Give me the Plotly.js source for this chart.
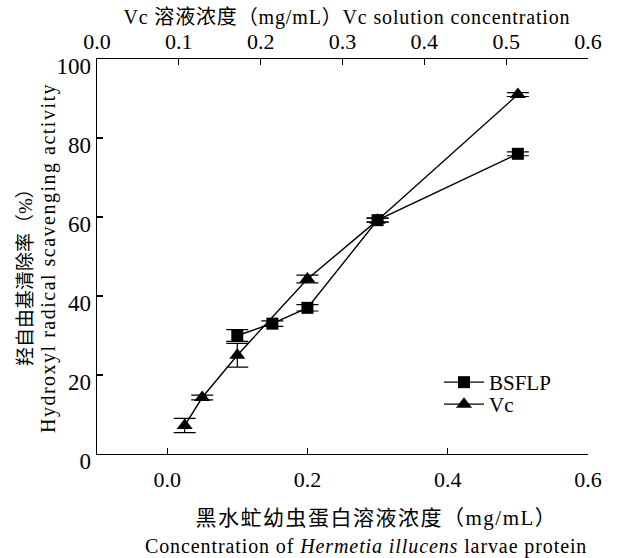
<!DOCTYPE html>
<html>
<head>
<meta charset="utf-8">
<script src="https://cdn.plot.ly/plotly-3.0.1.min.js"></script>
<style>
html,body{margin:0;padding:0;background:#fff;}
#chart{width:620px;height:558px;}
g.annotation[data-index="0"] text{letter-spacing:0.85px;}
g.annotation[data-index="1"] text{letter-spacing:1.5px;}
g.annotation[data-index="2"] text{letter-spacing:0.9px;}
g.annotation[data-index="4"] text{letter-spacing:1.5px;}
</style>
</head>
<body>
<div id="chart"></div>
<script>
// Data
var bsflpConc = [0.1, 0.15, 0.2, 0.3, 0.5];
var bsflpActivity = [30.0, 33.0, 37.0, 59.2, 76.0];
var bsflpErr = [1.5, 0.7, 0.8, 0.5, 0.5];

var vcConc = [0.025, 0.05, 0.1, 0.2, 0.3, 0.5];
var vcActivity = [7.2, 14.3, 25.0, 44.3, 59.2, 91.0];
var vcErr = [1.8, 0.6, 3.0, 1.0, 0.5, 0.5];

var bottomTicks = [0.0, 0.2, 0.4, 0.6];
var topTicks = [0.0, 0.1, 0.2, 0.3, 0.4, 0.5, 0.6];
var yTicks = [0, 20, 40, 60, 80, 100];

var serif = 'Liberation Serif, Times New Roman, Noto Sans CJK SC, serif';

var traces = [
  {
    x: bsflpConc, y: bsflpActivity, name: 'BSFLP', type: 'scatter', mode: 'lines+markers',
    legend: 'legend',
    line: {color: '#000', width: 1.4},
    marker: {symbol: 'square', size: 12, color: '#000'},
    error_y: {type: 'data', array: bsflpErr, visible: true, color: '#000', thickness: 1.2, width: 11}
  },
  {
    x: vcConc, y: vcActivity, name: 'Vc', type: 'scatter', mode: 'lines+markers',
    legend: 'legend2',
    line: {color: '#000', width: 1.4},
    marker: {symbol: 'triangle-up', size: 14, color: '#000'},
    error_y: {type: 'data', array: vcErr, visible: true, color: '#000', thickness: 1.2, width: 11}
  },
  {
    x: [0, 0.6], y: [null, null], xaxis: 'x2', yaxis: 'y', type: 'scatter', mode: 'markers',
    showlegend: false, hoverinfo: 'skip'
  }
];

function px2x(p) { return (p - 97) / 491; }
function px2y(p) { return (454 - p) / 395; }

var legendFont = {family: serif, size: 21, color: '#000'};

var layout = {
  width: 620, height: 558,
  margin: {l: 97, r: 32, t: 59, b: 104},
  paper_bgcolor: '#fff', plot_bgcolor: '#fff',
  font: {family: serif, color: '#000', size: 20},
  showlegend: true,
  legend: {x: px2x(439), y: px2y(362), xanchor: 'left', yanchor: 'top', bgcolor: 'rgba(0,0,0,0)',
           font: legendFont, itemwidth: 40},
  legend2: {x: px2x(439), y: px2y(384), xanchor: 'left', yanchor: 'top', bgcolor: 'rgba(0,0,0,0)',
            font: legendFont, itemwidth: 40},
  xaxis: {
    range: [-0.1, 0.6], tickvals: bottomTicks, ticktext: bottomTicks.map(function(v){return v.toFixed(1);}),
    ticks: 'inside', ticklen: 6, tickwidth: 1.2, tickcolor: '#000', ticklabelstandoff: 5,
    showline: true, linecolor: '#000', linewidth: 1.3, showgrid: false, zeroline: false,
    tickfont: {family: serif, size: 22, color: '#000'}
  },
  xaxis2: {
    range: [0, 0.6], overlaying: 'x', side: 'top', anchor: 'y',
    tickvals: topTicks, ticktext: topTicks.map(function(v){return v.toFixed(1);}),
    ticks: 'inside', ticklen: 6, tickwidth: 1.2, tickcolor: '#000',
    showline: true, linecolor: '#000', linewidth: 1.3, showgrid: false, zeroline: false,
    tickfont: {family: serif, size: 22, color: '#000'}
  },
  yaxis: {
    range: [0, 100], tickvals: yTicks,
    ticks: 'inside', ticklen: 6, tickwidth: 1.2, tickcolor: '#000', ticklabelshift: 7,
    showline: true, linecolor: '#000', linewidth: 1.3, showgrid: false, zeroline: false,
    tickfont: {family: serif, size: 23, color: '#000'}
  },
  annotations: [
    {text: 'Vc 溶液浓度（mg/mL）Vc solution concentration', xref: 'paper', yref: 'paper',
     x: px2x(347), y: px2y(18), xanchor: 'center', yanchor: 'middle', showarrow: false,
     font: {family: serif, size: 20, color: '#000'}},
    {text: '黑水虻幼虫蛋白溶液浓度（mg/mL）', xref: 'paper', yref: 'paper',
     x: px2x(376), y: px2y(518), xanchor: 'center', yanchor: 'middle', showarrow: false,
     font: {family: serif, size: 21, color: '#000'}},
    {text: 'Concentration of <i>Hermetia illucens</i> larvae protein', xref: 'paper', yref: 'paper',
     x: px2x(366), y: px2y(546), xanchor: 'center', yanchor: 'middle', showarrow: false,
     font: {family: serif, size: 20, color: '#000'}},
    {text: '羟自由基清除率（%）', xref: 'paper', yref: 'paper', textangle: -90,
     x: px2x(25), y: px2y(273), xanchor: 'center', yanchor: 'middle', showarrow: false,
     font: {family: serif, size: 19, color: '#000'}},
    {text: 'Hydroxyl radical scavenging activity', xref: 'paper', yref: 'paper', textangle: -90,
     x: px2x(48), y: px2y(258), xanchor: 'center', yanchor: 'middle', showarrow: false,
     font: {family: serif, size: 20, color: '#000'}}
  ]
};

Plotly.newPlot('chart', traces, layout, {displayModeBar: false, staticPlot: true});
</script>
</body>
</html>
